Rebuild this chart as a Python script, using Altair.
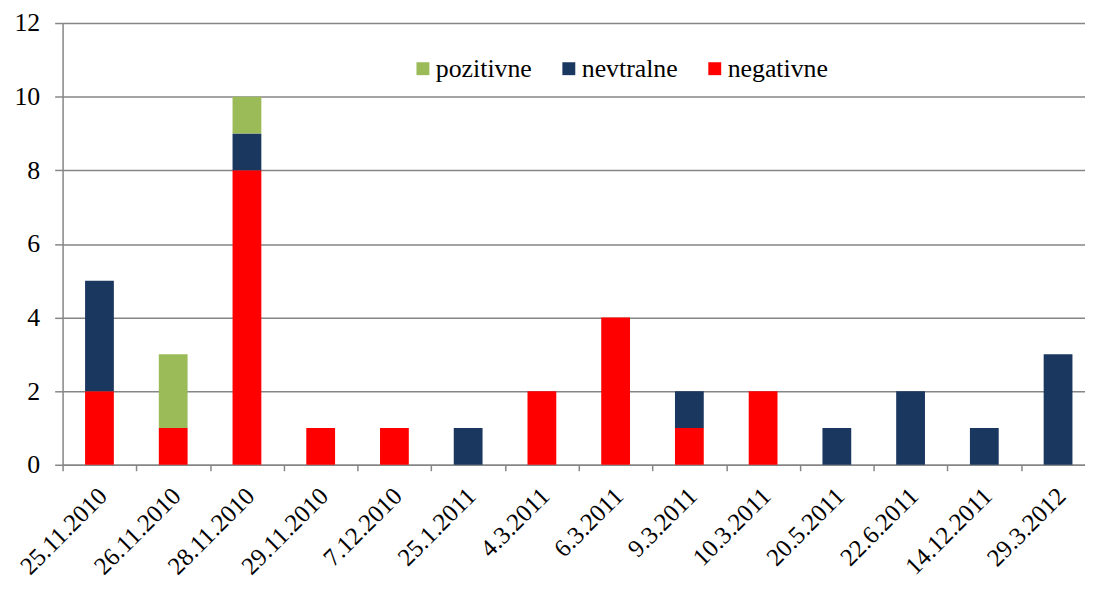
import altair as alt
import pandas as pd

dates = ["25.11.2010", "26.11.2010", "28.11.2010", "29.11.2010", "7.12.2010",
         "25.1.2011", "4.3.2011", "6.3.2011", "9.3.2011", "10.3.2011",
         "20.5.2011", "22.6.2011", "14.12.2011", "29.3.2012"]
negativne = [2, 1, 8, 1, 1, 0, 2, 4, 1, 2, 0, 0, 0, 0]
nevtralne = [3, 0, 1, 0, 0, 1, 0, 0, 1, 0, 1, 2, 1, 3]
pozitivne = [0, 2, 1, 0, 0, 0, 0, 0, 0, 0, 0, 0, 0, 0]

series_names = ["pozitivne", "nevtralne", "negativne"]
series_colors = ["#9BBB59", "#1A3760", "#FF0000"]
stack_order = {"negativne": 0, "nevtralne": 1, "pozitivne": 2}

rows = []
for name, vals in [("negativne", negativne), ("nevtralne", nevtralne), ("pozitivne", pozitivne)]:
    for d, v in zip(dates, vals):
        rows.append({"datum": d, "serija": name, "vrednost": v, "red": stack_order[name]})
df = pd.DataFrame(rows)

FONT = "Liberation Serif"
step = 1040 / 14

chart = alt.Chart(df).mark_bar(size=29).encode(
    x=alt.X("datum:N", sort=dates, title=None,
            scale=alt.Scale(range=[0, 1040]),
            axis=alt.Axis(labelAngle=-45, labelAlign="right", labelBaseline="middle",
                          labelFontSize=25, labelFont=FONT, labelColor="black",
                          labelPadding=21, tickSize=6, tickColor="#868686", tickWidth=1.5,
                          domainColor="#868686", domainWidth=1.5,
                          tickOffset=-step / 2, labelOffset=step / 2 + 3, labelOverlap=False)),
    y=alt.Y("vrednost:Q", stack="zero", title=None,
            scale=alt.Scale(domain=[0, 12], nice=False),
            axis=alt.Axis(values=[0, 2, 4, 6, 8, 10, 12], labelFontSize=26, labelFont=FONT,
                          labelColor="black", labelPadding=15, tickSize=8,
                          tickColor="#868686", tickWidth=1.5, domainColor="#868686",
                          domainWidth=1.5, gridColor="#868686", gridWidth=1.5)),
    color=alt.Color("serija:N", scale=alt.Scale(domain=series_names, range=series_colors),
                    legend=alt.Legend(title=None, orient="none", direction="horizontal",
                                      legendX=350, legendY=33, symbolType="square",
                                      symbolSize=169, symbolStrokeWidth=0,
                                      labelFontSize=26, labelFont=FONT, labelColor="black",
                                      labelOffset=0, columnPadding=24, padding=0)),
    order=alt.Order("red:Q", sort="ascending"),
).properties(
    width=1030, height=445,
    autosize=alt.AutoSizeParams(type="none"),
    padding={"left": 55, "top": 13, "right": 0, "bottom": 120},
).configure(font=FONT).configure_view(stroke=None)

chart.save("out.html", embed_options={"renderer": "svg", "actions": False})
